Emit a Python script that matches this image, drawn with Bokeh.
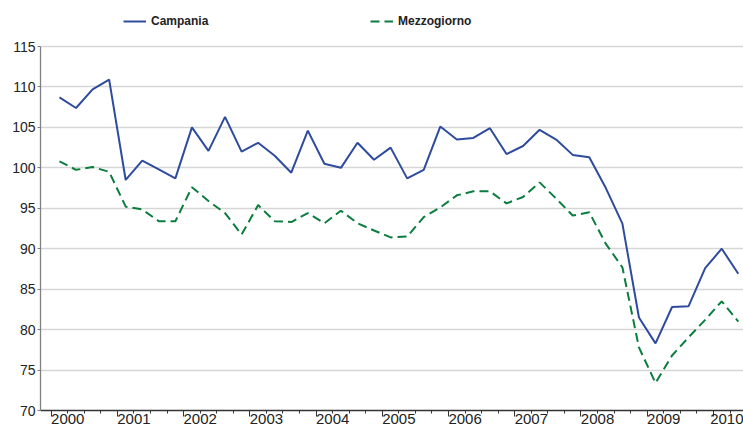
from bokeh.plotting import figure
from bokeh.models import FixedTicker, Legend, LegendItem, Range1d, LinearAxis
from bokeh.embed import file_html
from bokeh.resources import INLINE

# ---- data (quarterly, 2000 Q1 .. 2010 Q2) ----
years = ["2000", "2001", "2002", "2003", "2004", "2005",
         "2006", "2007", "2008", "2009", "2010"]
quarter_index = list(range(42))
campania = [108.7, 107.4, 109.7, 110.9, 98.5, 100.9, 99.8, 98.7, 105.0, 102.1,
            106.3, 102.0, 103.1, 101.5, 99.4, 104.6, 100.5, 100.0, 103.1, 101.0,
            102.5, 98.7, 99.75, 105.1, 103.5, 103.7, 104.9, 101.7, 102.7, 104.7,
            103.5, 101.6, 101.3, 97.5, 93.1, 81.5, 78.3, 82.8, 82.9, 87.6,
            90.0, 86.9]
mezzogiorno = [100.8, 99.75, 100.1, 99.5, 95.2, 94.85, 93.4, 93.4, 97.6, 95.9,
               94.4, 91.75, 95.4, 93.4, 93.3, 94.4, 93.15, 94.7, 93.15, 92.25,
               91.4, 91.5, 93.9, 95.1, 96.6, 97.1, 97.1, 95.6, 96.4, 98.2,
               96.2, 94.1, 94.5, 90.6, 87.7, 77.8, 73.4, 76.8, 79.05, 81.2,
               83.5, 81.0]
y_ticks = [70, 75, 80, 85, 90, 95, 100, 105, 110, 115]
series_names = ["Campania", "Mezzogiorno"]

BLUE = "#2E4B9E"
GREEN = "#0B7D3E"
TEXT = "#222222"

p = figure(width=743, height=432, output_backend="svg", toolbar_location=None,
           x_range=Range1d(-1.146, 41.315), y_range=Range1d(70, 120.687),
           x_axis_location=None,
           min_border_left=40, min_border_right=0, min_border_top=0,
           min_border_bottom=22)
p.outline_line_color = None
p.background_fill_color = "white"
p.border_fill_color = "white"

# x axis 1: tick marks only (year boundaries major, quarter boundaries minor)
year_ticks = [4 * k - 0.5 for k in range(len(years))]
minor = [4 * k + d for k in range(len(years)) for d in (0.5, 1.5, 2.5)]
xa = LinearAxis(ticker=FixedTicker(ticks=year_ticks, minor_ticks=minor))
xa.major_label_overrides = {t: "" for t in year_ticks}
xa.major_label_text_font_size = "0px"
xa.major_label_standoff = 0
xa.major_tick_out = 6
xa.major_tick_in = 0
xa.minor_tick_out = 3
xa.minor_tick_in = 0
xa.axis_line_color = "#333333"
xa.major_tick_line_color = "#333333"
xa.minor_tick_line_color = "#333333"
xa.axis_line_width = 1.3
p.add_layout(xa, "below")

# x axis 2: year labels, placed one quarter right of each year boundary
label_ticks = [4 * k + 0.5 for k in range(len(years))]
xb = LinearAxis(ticker=FixedTicker(ticks=label_ticks, minor_ticks=[]))
xb.major_label_overrides = {t: y for t, y in zip(label_ticks, years)}
xb.major_label_text_font = "Liberation Sans"
xb.major_label_text_font_size = "15px"
xb.major_label_text_color = TEXT
xb.major_label_standoff = -3
xb.major_tick_out = 0
xb.major_tick_in = 0
xb.minor_tick_out = 0
xb.minor_tick_in = 0
xb.axis_line_color = None
xb.major_tick_line_color = None
p.add_layout(xb, "below")

ya = p.yaxis[0]
ya.ticker = FixedTicker(ticks=y_ticks)
ya.bounds = (70, 115)
ya.major_label_text_font = "Liberation Sans"
ya.major_label_text_font_size = "14px"
ya.major_label_text_color = TEXT
ya.major_label_standoff = 2
ya.major_tick_out = 3
ya.major_tick_in = 0
ya.minor_tick_out = 0
ya.minor_tick_in = 0
ya.axis_line_color = "#808080"
ya.major_tick_line_color = "#808080"
ya.axis_line_width = 1.3

for g in p.grid:
    if g.dimension == 0:
        g.visible = False
    else:
        g.grid_line_color = "#d6d6d6"
        g.grid_line_width = 1.6

r1 = p.line(quarter_index, campania, line_color=BLUE, line_width=2)
r2 = p.line(quarter_index, mezzogiorno, line_color=GREEN, line_width=2,
            line_dash="9 5")

for name, rend, loc in zip(series_names, [r1, r2], [(83, 379), (330, 379)]):
    lg = Legend(items=[LegendItem(label=name, renderers=[rend])],
                location=loc, orientation="horizontal", padding=0, margin=0,
                glyph_width=23, glyph_height=20, label_height=20,
                label_standoff=5, border_line_color=None,
                background_fill_alpha=0, label_text_font_style="bold",
                label_text_font_size="12px", label_text_font="Liberation Sans",
                label_text_color=TEXT)
    p.add_layout(lg)

open("out.html", "w").write(file_html(p, INLINE))
